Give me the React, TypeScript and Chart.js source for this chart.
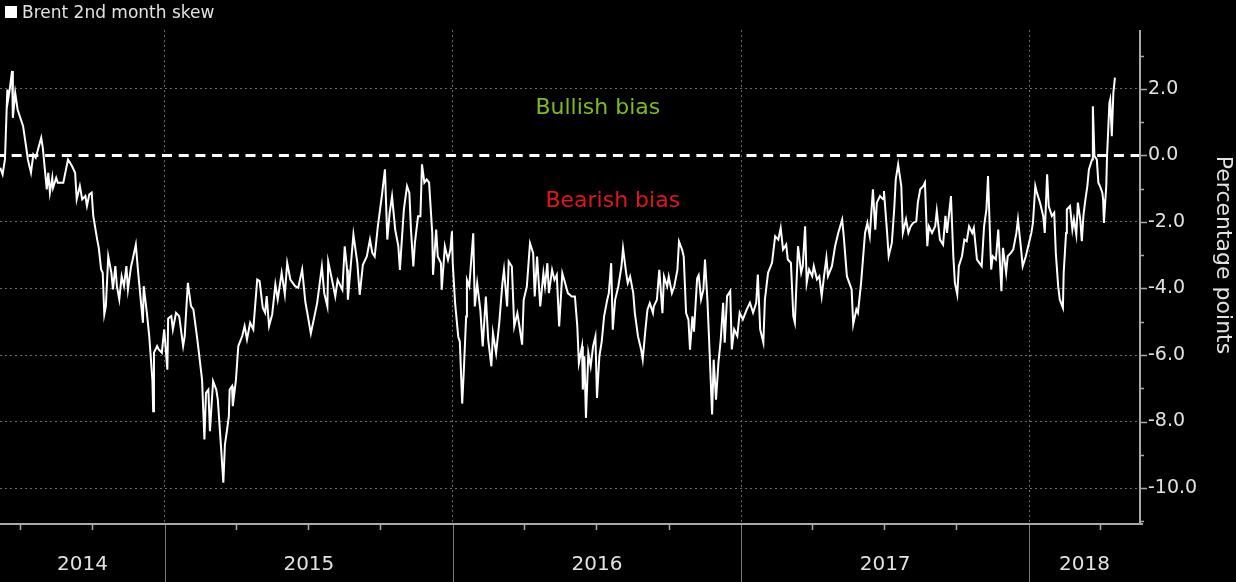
import React, { useEffect, useRef } from 'react';
import { Chart, registerables } from 'chart.js';

Chart.register(...registerables);

// ---------- data ----------
const SERIES_LABEL = 'Brent 2nd month skew';
const Y_TITLE = 'Percentage points';

// x values: days since 2014-01-01
const DAYS = [
  156, 159, 162, 165, 166, 168, 171, 172, 175, 178, 185, 189, 191, 195, 198, 201, 208, 210, 215, 217,
  219, 222, 223, 227, 229, 236, 242, 247, 251, 253, 257, 260, 264, 266, 269, 272, 274, 279, 281, 284,
  286, 288, 290, 293, 297, 299, 302, 304, 307, 310, 313, 316, 318, 322, 324, 328, 331, 335, 337, 338,
  342, 345, 349, 350, 351, 355, 357, 361, 364, 368, 369, 373, 375, 379, 383, 388, 390, 394, 398, 401,
  406, 408, 412, 415, 417, 420, 422, 426, 430, 432, 436, 439, 441, 444, 446, 447, 450, 451, 455, 458,
  463, 466, 469, 473, 477, 482, 485, 489, 492, 494, 497, 501, 505, 508, 513, 517, 520, 524, 530, 534,
  539, 543, 546, 550, 554, 558, 564, 567, 571, 572, 576, 581, 584, 590, 593, 596, 597, 604, 609, 612,
  616, 621, 625, 628, 631, 635, 640, 644, 647, 650, 653, 657, 661, 663, 666, 668, 672, 675, 677, 680,
  682, 686, 689, 691, 694, 697, 700, 704, 705, 709, 711, 715, 716, 720, 724, 727, 729, 730, 733, 737,
  739, 742, 744, 747, 748, 751, 756, 758, 761, 765, 768, 772, 775, 779, 781, 785, 789, 793, 795, 799,
  801, 805, 808, 812, 814, 818, 820, 824, 828, 832, 834, 837, 841, 845, 847, 850, 852, 856, 859, 862,
  865, 869, 872, 876, 881, 885, 888, 890, 894, 895, 897, 899, 902, 905, 908, 911, 913, 916, 919, 922,
  926, 928, 931, 933, 936, 940, 944, 946, 950, 952, 955, 959, 961, 965, 969, 971, 974, 977, 980, 984,
  985, 989, 992, 996, 998, 1002, 1004, 1008, 1011, 1015, 1017, 1021, 1023, 1026, 1029, 1031, 1034, 1036, 1040, 1042,
  1045, 1048, 1050, 1053, 1055, 1059, 1061, 1064, 1067, 1070, 1073, 1075, 1078, 1082, 1084, 1087, 1091, 1094, 1098, 1103,
  1107, 1111, 1115, 1117, 1120, 1124, 1126, 1130, 1135, 1139, 1143, 1146, 1149, 1153, 1155, 1159, 1162, 1164, 1168, 1172,
  1174, 1177, 1179, 1182, 1186, 1188, 1192, 1195, 1198, 1201, 1204, 1206, 1211, 1215, 1219, 1224, 1226, 1230, 1233, 1236,
  1238, 1242, 1244, 1248, 1250, 1253, 1256, 1259, 1263, 1266, 1268, 1272, 1276, 1277, 1281, 1283, 1287, 1290, 1292, 1295,
  1299, 1301, 1305, 1308, 1311, 1314, 1318, 1320, 1323, 1327, 1329, 1332, 1334, 1338, 1342, 1344, 1348, 1352, 1355, 1357,
  1362, 1365, 1367, 1370, 1372, 1376, 1379, 1382, 1385, 1389, 1391, 1395, 1398, 1401, 1404, 1407, 1409, 1413, 1415, 1419,
  1422, 1426, 1428, 1432, 1434, 1438, 1441, 1445, 1447, 1451, 1453, 1457, 1460, 1464, 1466, 1469, 1471, 1475, 1479, 1481,
  1484, 1486, 1490, 1493, 1495, 1498, 1500, 1504, 1505, 1508, 1509, 1513, 1516, 1518, 1521, 1523, 1526, 1528, 1530, 1532,
  1535, 1537, 1541, 1542, 1544, 1547, 1549, 1551, 1554, 1555, 1556, 1559, 1560, 1563, 1564, 1566, 1568, 1570,
];

const SKEW = [
  -0.37, -0.57, -0.12, 1.98, 1.68, 1.98, 2.54, 1.13, 1.88, 1.38, 0.88, 0.23, -0.12, -0.52, 0.03, -0.07, 0.53, 0.23, -1.02, -0.52,
  -1.12, -0.67, -0.97, -0.67, -0.82, -0.82, -0.12, -0.32, -0.52, -1.32, -0.92, -1.32, -1.22, -1.52, -1.17, -1.12, -1.82, -2.53, -2.78, -3.43,
  -3.53, -4.78, -4.53, -3.03, -3.53, -4.03, -3.33, -3.93, -4.33, -3.63, -3.93, -3.33, -4.03, -3.33, -3.13, -2.68, -3.53, -4.53, -5.03, -3.93,
  -4.73, -5.43, -6.74, -7.69, -5.93, -5.73, -5.83, -5.93, -5.23, -6.44, -4.9, -4.83, -5.23, -4.73, -4.83, -5.73, -5.43, -3.83, -4.53, -4.63,
  -5.53, -5.93, -6.74, -8.54, -7.14, -7.04, -8.29, -6.79, -7.04, -7.34, -8.74, -9.84, -8.7, -8.2, -7.84, -7.04, -6.94, -7.54, -6.74, -5.73,
  -5.43, -5.13, -5.53, -5.03, -5.23, -3.73, -3.78, -4.58, -4.73, -4.23, -5.13, -4.78, -3.88, -4.33, -3.53, -4.18, -3.23, -3.73, -3.93, -3.98,
  -3.43, -4.4, -4.8, -5.35, -4.9, -4.44, -3.34, -4.14, -4.54, -3.19, -3.64, -4.24, -3.74, -4.04, -2.73, -3.44, -4.34, -2.38, -3.24, -4.19,
  -3.29, -3.04, -2.53, -2.93, -3.04, -2.13, -1.23, -0.42, -2.53, -1.73, -1.23, -2.23, -2.73, -3.44, -2.33, -1.63, -0.92, -1.13, -2.23, -3.34,
  -2.63, -1.83, -1.83, -0.27, -0.82, -0.72, -0.82, -2.33, -3.59, -2.23, -3.04, -3.24, -4.04, -2.73, -3.14, -2.83, -2.28, -3.24, -4.44, -5.45,
  -5.6, -7.46, -6.5, -4.84, -3.74, -3.94, -2.34, -4.54, -3.84, -4.64, -5.74, -4.24, -5.54, -6.34, -5.34, -5.94, -5.04, -3.84, -3.44, -4.54,
  -3.19, -3.34, -5.14, -4.74, -5.04, -5.69, -4.34, -3.94, -2.64, -2.94, -4.24, -3.04, -4.54, -3.54, -3.94, -3.24, -4.14, -3.44, -3.74, -3.59,
  -5.14, -3.54, -3.79, -4.14, -4.24, -4.24, -5.14, -6.24, -5.74, -7.04, -6.04, -7.89, -5.94, -6.34, -5.74, -5.44, -7.29, -6.04, -5.59, -4.84,
  -4.34, -4.14, -3.24, -5.24, -4.34, -3.94, -3.34, -2.79, -3.54, -3.84, -3.64, -4.14, -4.74, -5.44, -5.84, -6.14, -5.34, -4.64, -4.44, -4.74,
  -4.54, -4.34, -3.44, -4.74, -3.64, -3.94, -3.64, -4.14, -3.94, -3.44, -2.59, -2.84, -3.04, -4.74, -4.94, -5.84, -4.84, -5.3, -3.7, -3.6,
  -4.33, -4.03, -3.13, -4.33, -5.43, -7.79, -6.14, -7.34, -6.24, -5.53, -4.43, -5.63, -4.23, -4.08, -5.83, -5.23, -5.43, -4.73, -4.93, -4.63,
  -4.43, -4.73, -4.43, -3.58, -5.23, -5.63, -4.33, -3.53, -3.23, -2.43, -2.53, -2.18, -2.83, -2.68, -3.13, -3.23, -4.83, -5.03, -2.73, -3.53,
  -3.33, -2.13, -3.83, -3.43, -3.63, -3.33, -3.73, -3.63, -4.23, -3.63, -3.08, -3.63, -3.33, -2.73, -2.33, -1.93, -2.43, -3.63, -3.83, -4.03,
  -5.08, -4.63, -4.73, -3.83, -3.23, -2.33, -2.03, -2.43, -1.02, -2.23, -1.42, -1.22, -1.32, -1.07, -2.33, -3.03, -2.63, -1.62, -0.72, -0.27,
  -0.92, -2.33, -1.92, -2.33, -2.13, -2.03, -1.98, -1.42, -1.02, -0.92, -0.82, -2.73, -2.13, -2.33, -2.13, -1.67, -2.53, -2.68, -1.82, -2.33,
  -1.22, -3.03, -3.83, -4.18, -3.33, -3.03, -2.53, -2.58, -2.13, -2.33, -2.18, -3.13, -3.23, -3.33, -2.13, -1.62, -0.62, -3.43, -3.03, -3.13,
  -2.23, -4.08, -2.78, -3.53, -3.03, -2.93, -2.83, -2.33, -1.92, -2.83, -3.33, -3.03, -2.73, -2.33, -2.03, -0.92, -1.12, -1.42, -1.82, -2.33,
  -0.57, -1.52, -1.82, -1.72, -2.93, -3.93, -4.33, -4.58, -3.53, -2.33, -1.62, -1.52, -2.23, -1.92, -2.38, -1.42, -1.92, -2.58, -1.82, -1.42,
  -0.92, -0.42, -0.12, 1.48, -0.02, -0.12, -0.82, -0.92, -1.12, -1.32, -2.03, -0.92, -0.02, 1.58, 1.68, 0.58, 1.88, 2.34,
];

const YEAR_LABELS = ['2014', '2015', '2016', '2017', '2018'];
const YEAR_STARTS = [0, 365, 730, 1096, 1461];
const QUARTER_STARTS = [181, 273, 455, 546, 638, 821, 912, 1004, 1186, 1277, 1369, 1551];
const X_MIN = 155.7;
const X_MAX = 1601.8;
const Y_MIN = -11.08;
const Y_MAX = 3.77;
const Y_TICKS = [-11, -10, -9, -8, -7, -6, -5, -4, -3, -2, -1, 0, 1, 2, 3];
const ANNOTATION_TEXT = ['Bullish bias', 'Bearish bias'];
const ANNOTATION_DAY = [914, 933];
const ANNOTATION_VALUE = [1.43, -1.37];
const ANNOTATION_COLOR = ['#7dbb1f', '#e3141c'];

// ---------- derived tick table ----------
type XTick = { value: number; label: string; boundary: boolean };
const X_TICKS: XTick[] = (() => {
  const list: XTick[] = [];
  YEAR_STARTS.forEach((start, i) => {
    if (start > X_MIN && start < X_MAX) list.push({ value: start, label: '', boundary: true });
    const end = i + 1 < YEAR_STARTS.length ? YEAR_STARTS[i + 1] : X_MAX;
    const a = Math.max(start, X_MIN);
    const b = Math.min(end, X_MAX);
    list.push({ value: (a + b) / 2, label: YEAR_LABELS[i], boundary: false });
  });
  return list.sort((p, q) => p.value - q.value);
})();

const FONT = 'DejaVu Sans';
const TEXT = '#e2e2e2';
const AXIS = '#a8a8a8';
const GRID = '#6a6a6a';

const decorPlugin = {
  id: 'decor',
  beforeDraw(chart: any) {
    const { ctx, width, height } = chart;
    ctx.save();
    ctx.fillStyle = '#000';
    ctx.fillRect(0, 0, width, height);
    ctx.restore();
  },
  afterDraw(chart: any) {
    const { ctx, chartArea, scales } = chart;
    const { left, right, top, bottom } = chartArea;
    const x = scales.x;
    const y = scales.y;
    ctx.save();

    // year boundary lines below the axis
    ctx.strokeStyle = '#7a7a7a';
    ctx.lineWidth = 1;
    YEAR_STARTS.forEach((d) => {
      if (d <= X_MIN || d >= X_MAX) return;
      const px = Math.round(x.getPixelForValue(d)) + 0.5;
      ctx.beginPath();
      ctx.moveTo(px, bottom);
      ctx.lineTo(px, chart.height);
      ctx.stroke();
    });

    // quarter tick marks
    ctx.strokeStyle = AXIS;
    ctx.lineWidth = 1.5;
    QUARTER_STARTS.forEach((d) => {
      const px = Math.round(x.getPixelForValue(d)) + 0.5;
      ctx.beginPath();
      ctx.moveTo(px, bottom);
      ctx.lineTo(px, bottom + 6);
      ctx.stroke();
    });

    // axis lines
    ctx.lineWidth = 2;
    ctx.strokeStyle = AXIS;
    ctx.beginPath();
    ctx.moveTo(left, bottom);
    ctx.lineTo(right + 3, bottom);
    ctx.stroke();
    ctx.beginPath();
    ctx.moveTo(right, top);
    ctx.lineTo(right, bottom + 1);
    ctx.stroke();

    // y tick marks
    ctx.lineWidth = 1.5;
    Y_TICKS.forEach((v) => {
      const py = Math.round(y.getPixelForValue(v)) + 0.5;
      const len = v % 2 === 0 ? 7 : 4;
      ctx.beginPath();
      ctx.moveTo(right, py);
      ctx.lineTo(right + len, py);
      ctx.stroke();
    });

    // legend
    ctx.fillStyle = '#ffffff';
    ctx.fillRect(5, 6, 12, 12);
    ctx.fillStyle = TEXT;
    ctx.font = `17px "${FONT}"`;
    ctx.textAlign = 'left';
    ctx.textBaseline = 'alphabetic';
    ctx.fillText(SERIES_LABEL, 22, 18);

    // annotations
    ctx.font = `22px "${FONT}"`;
    ctx.textAlign = 'center';
    ctx.textBaseline = 'middle';
    ANNOTATION_TEXT.forEach((t, i) => {
      ctx.fillStyle = ANNOTATION_COLOR[i];
      ctx.fillText(t, x.getPixelForValue(ANNOTATION_DAY[i]), y.getPixelForValue(ANNOTATION_VALUE[i]));
    });

    // y axis title
    ctx.translate(1217, 255);
    ctx.rotate(Math.PI / 2);
    ctx.fillStyle = TEXT;
    ctx.font = `22px "${FONT}"`;
    ctx.textAlign = 'center';
    ctx.textBaseline = 'alphabetic';
    ctx.fillText(Y_TITLE, 0, 0);

    ctx.restore();
  },
};

export default function App() {
  const canvasRef = useRef<HTMLCanvasElement>(null);

  useEffect(() => {
    document.body.style.margin = '0';
    document.body.style.background = '#000';
    const canvas = canvasRef.current;
    if (!canvas) return;

    const points = DAYS.map((d, i) => ({ x: d, y: SKEW[i] }));

    const chart = new Chart(canvas, {
      type: 'line',
      data: {
        datasets: [
          {
            label: SERIES_LABEL,
            data: points,
            borderColor: '#ffffff',
            borderWidth: 2,
            pointRadius: 0,
            tension: 0,
            fill: false,
            order: 0,
          },
          {
            label: 'zero',
            data: [
              { x: X_MIN, y: 0 },
              { x: X_MAX, y: 0 },
            ],
            borderColor: '#ffffff',
            borderWidth: 3,
            borderDash: [10, 6.7],
            borderDashOffset: 5,
            pointRadius: 0,
            fill: false,
            order: 1,
          },
        ],
      },
      options: {
        animation: false,
        responsive: false,
        devicePixelRatio: 1,
        layout: { padding: { top: 30, left: 0, right: 0, bottom: 0 } },
        plugins: {
          legend: { display: false },
          tooltip: { enabled: false },
          title: { display: false },
        },
        scales: {
          x: {
            type: 'linear',
            min: X_MIN,
            max: X_MAX,
            offset: false,
            afterBuildTicks: (s: any) => {
              s.ticks = X_TICKS.map((t) => ({ value: t.value }));
            },
            afterFit: (s: any) => {
              s.height = 58;
            },
            ticks: {
              autoSkip: false,
              maxRotation: 0,
              minRotation: 0,
              padding: 29,
              color: TEXT,
              font: { family: FONT, size: 20 },
              callback: (_v: any, i: number) => (X_TICKS[i] ? X_TICKS[i].label : ''),
            },
            grid: {
              drawTicks: false,
              lineWidth: 1,
              color: (c: any) =>
                c.index !== undefined && X_TICKS[c.index] && X_TICKS[c.index].boundary ? GRID : 'rgba(0,0,0,0)',
            },
            border: { display: false, dash: [2, 3] },
          },
          y: {
            type: 'linear',
            position: 'right',
            min: Y_MIN,
            max: Y_MAX,
            afterBuildTicks: (s: any) => {
              s.ticks = Y_TICKS.map((v) => ({ value: v }));
            },
            afterFit: (s: any) => {
              s.width = 96;
            },
            ticks: {
              padding: 8,
              color: TEXT,
              font: { family: FONT, size: 19 },
              callback: (v: any) => (Number(v) % 2 === 0 ? Number(v).toFixed(1) : ''),
            },
            grid: {
              drawTicks: false,
              lineWidth: 1,
              color: (c: any) => {
                const v = c.tick ? c.tick.value : undefined;
                return v !== undefined && v % 2 === 0 && v !== 0 ? GRID : 'rgba(0,0,0,0)';
              },
            },
            border: { display: false, dash: [2, 3] },
          },
        },
      },
      plugins: [decorPlugin],
    });

    return () => chart.destroy();
  }, []);

  return (
    <div style={{ width: 1236, height: 582, background: '#000' }}>
      <canvas ref={canvasRef} width={1236} height={582} style={{ display: 'block', width: 1236, height: 582 }} />
    </div>
  );
}
